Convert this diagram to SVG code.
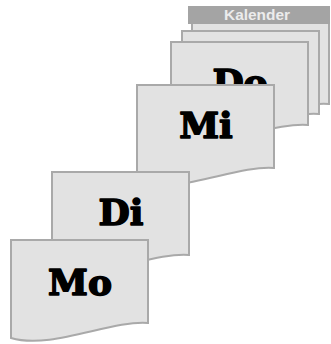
<svg xmlns="http://www.w3.org/2000/svg" xmlns:xlink="http://www.w3.org/1999/xlink" width="331" height="344" viewBox="0 0 331 344">
  <style>
    .sheet { fill: #e2e2e2; stroke: #a9a9a9; stroke-width: 2; stroke-linejoin: miter; }
    .day { font-family: "DejaVu Serif", "Liberation Serif", serif; font-weight: bold; font-size: 36px; fill: #000; stroke: #000; stroke-width: 1.6; stroke-linejoin: round; text-anchor: middle; }
    .tab { fill: #a4a4a4; }
    .tabtext { font-family: "Liberation Sans", Arial, sans-serif; font-weight: bold; font-size: 14px; fill: #ececec; text-anchor: middle; }
  </style>
  <defs>
    <!-- a single calendar sheet with a wavy lower edge -->
    <path id="page" d="M0 0 H137 V83 C100 80 40 110 0 98 Z"/>
  </defs>

  <g id="kalender" transform="translate(192,21)">
    <use xlink:href="#page" class="sheet"/>
    <rect class="tab" x="-4" y="-15" width="142" height="18"/>
    <text class="tabtext" x="65" y="-1" textLength="66" lengthAdjust="spacingAndGlyphs">Kalender</text>
  </g>

  <g id="sheet2" transform="translate(182,31)">
    <use xlink:href="#page" class="sheet"/>
  </g>

  <g id="do" transform="translate(171,42)">
    <use xlink:href="#page" class="sheet"/>
    <text class="day" x="69" y="53">Do</text>
  </g>

  <g id="mi" transform="translate(137,85)">
    <use xlink:href="#page" class="sheet"/>
    <text class="day" x="69" y="53">Mi</text>
  </g>

  <g id="di" transform="translate(52,172)">
    <use xlink:href="#page" class="sheet"/>
    <text class="day" x="69" y="53">Di</text>
  </g>

  <g id="mo" transform="translate(11,240)">
    <use xlink:href="#page" class="sheet"/>
    <text class="day" x="69" y="55">Mo</text>
  </g>
</svg>
